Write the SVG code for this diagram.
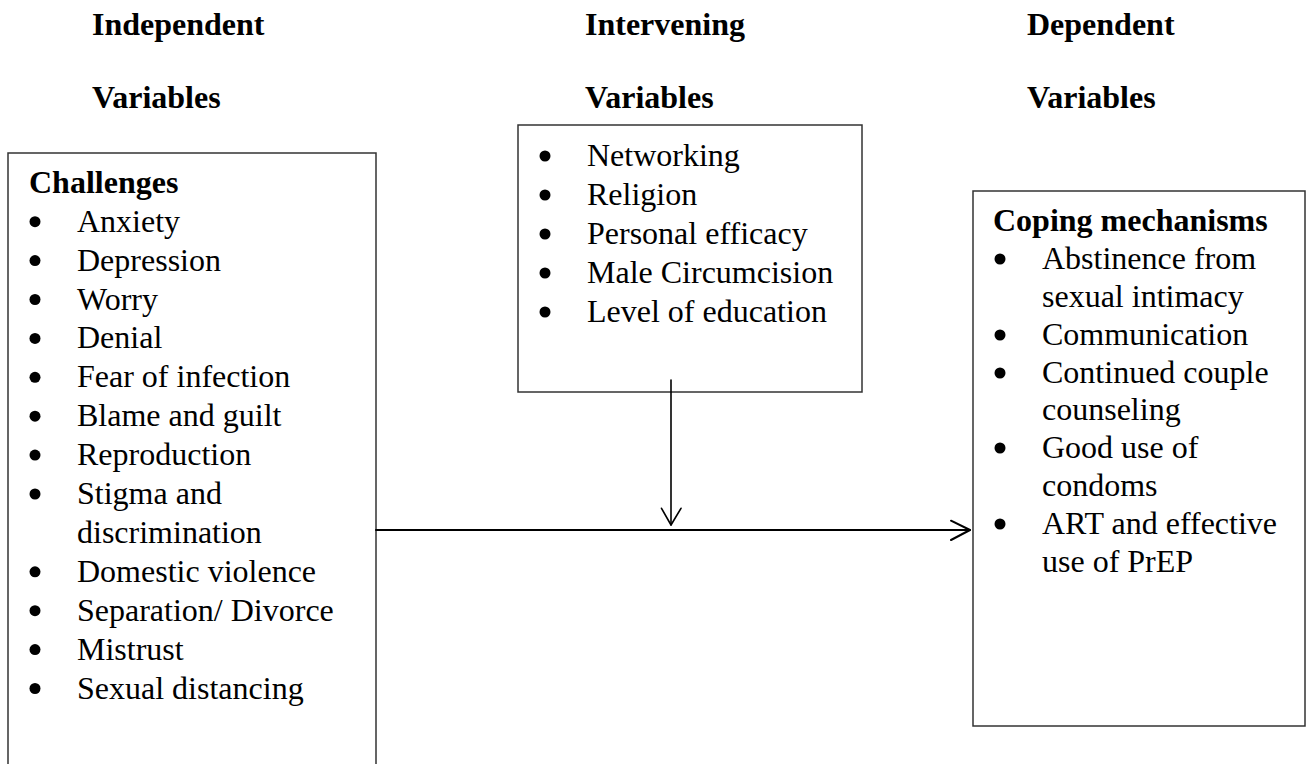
<svg xmlns="http://www.w3.org/2000/svg" width="1311" height="764" viewBox="0 0 1311 764">
<style>
.h{font-family:"Liberation Serif","Times New Roman",serif;font-size:32px;font-weight:bold;fill:#000}
.t{font-family:"Liberation Serif","Times New Roman",serif;font-size:32px;fill:#000}
.box{fill:none;stroke:#333;stroke-width:1.5}
.b{fill:#000}
.ln{fill:none;stroke:#000;stroke-linecap:round;stroke-linejoin:round}
</style>
<rect width="1311" height="764" fill="#fff"/>
<g id="headers">
<text class="h" x="92" y="35">Independent</text>
<text class="h" x="92" y="108">Variables</text>
<text class="h" x="585" y="35">Intervening</text>
<text class="h" x="585" y="108">Variables</text>
<text class="h" x="1027" y="35">Dependent</text>
<text class="h" x="1027" y="108">Variables</text>
</g>
<g id="challenges">
<path class="box" d="M8,770 V153 H376 V770"/>
<text class="h" x="29" y="192.7">Challenges</text>
<g class="b">
<circle cx="35" cy="221.7" r="5.5"/><circle cx="35" cy="260.6" r="5.5"/><circle cx="35" cy="299.5" r="5.5"/><circle cx="35" cy="338.4" r="5.5"/><circle cx="35" cy="377.3" r="5.5"/><circle cx="35" cy="416.2" r="5.5"/><circle cx="35" cy="455.1" r="5.5"/><circle cx="35" cy="494" r="5.5"/><circle cx="35" cy="571.8" r="5.5"/><circle cx="35" cy="610.7" r="5.5"/><circle cx="35" cy="649.6" r="5.5"/><circle cx="35" cy="688.5" r="5.5"/>
</g>
<text class="t" x="77" y="231.7">Anxiety</text>
<text class="t" x="77" y="270.6">Depression</text>
<text class="t" x="77" y="309.5">Worry</text>
<text class="t" x="77" y="348.4">Denial</text>
<text class="t" x="77" y="387.3">Fear of infection</text>
<text class="t" x="77" y="426.2">Blame and guilt</text>
<text class="t" x="77" y="465.1">Reproduction</text>
<text class="t" x="77" y="504">Stigma and</text>
<text class="t" x="77" y="542.9">discrimination</text>
<text class="t" x="77" y="581.8">Domestic violence</text>
<text class="t" x="77" y="620.7">Separation/ Divorce</text>
<text class="t" x="77" y="659.6">Mistrust</text>
<text class="t" x="77" y="698.5">Sexual distancing</text>
</g>
<g id="intervening">
<rect class="box" x="518" y="125" width="344" height="267"/>
<g class="b">
<circle cx="545" cy="156" r="5.5"/><circle cx="545" cy="195" r="5.5"/><circle cx="545" cy="234" r="5.5"/><circle cx="545" cy="273" r="5.5"/><circle cx="545" cy="312" r="5.5"/>
</g>
<text class="t" x="587" y="166">Networking</text>
<text class="t" x="587" y="205">Religion</text>
<text class="t" x="587" y="244">Personal efficacy</text>
<text class="t" x="587" y="283">Male Circumcision</text>
<text class="t" x="587" y="322">Level of education</text>
</g>
<g id="coping">
<rect class="box" x="973" y="191" width="332" height="535"/>
<text class="h" x="993" y="231">Coping mechanisms</text>
<g class="b">
<circle cx="1000" cy="259" r="5.5"/><circle cx="1000" cy="335" r="5.5"/><circle cx="1000" cy="373" r="5.5"/><circle cx="1000" cy="448" r="5.5"/><circle cx="1000" cy="524" r="5.5"/>
</g>
<text class="t" x="1042" y="269">Abstinence from</text>
<text class="t" x="1042" y="307">sexual intimacy</text>
<text class="t" x="1042" y="345">Communication</text>
<text class="t" x="1042" y="383">Continued couple</text>
<text class="t" x="1042" y="420">counseling</text>
<text class="t" x="1042" y="458">Good use of</text>
<text class="t" x="1042" y="496">condoms</text>
<text class="t" x="1042" y="534">ART and effective</text>
<text class="t" x="1042" y="572">use of PrEP</text>
</g>
<g id="connectors">
<path class="ln" stroke-width="2" d="M376,530 H970"/>
<path class="ln" stroke-width="2" d="M951,520.7 L970,530 L951,540"/>
<path class="ln" stroke-width="1.6" d="M671,380 V525"/>
<path class="ln" stroke-width="1.6" d="M661.5,508.3 L671,525 L681,508.3"/>
</g>
</svg>
